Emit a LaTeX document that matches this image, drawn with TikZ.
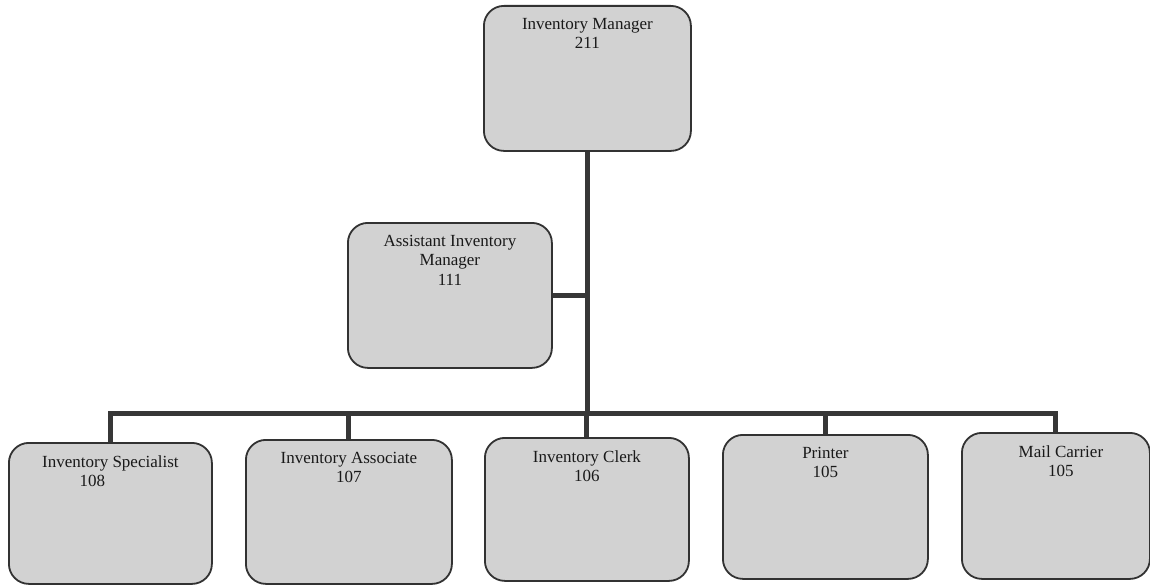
\documentclass[tikz,border=0pt]{standalone}
\usepackage{fontspec}
\setmainfont{Liberation Serif}
\definecolor{boxfill}{RGB}{210,210,210}
\definecolor{boxline}{RGB}{50,50,50}
\definecolor{wire}{RGB}{55,55,55}
\begin{document}
\begin{tikzpicture}[x=1pt,y=-1pt,
  post/.style={draw=boxline, line width=1.8pt, fill=boxfill,
    rounded corners=20pt, inner sep=0pt, anchor=north west},
  title/.style={anchor=north, align=center, inner sep=0pt,
    font=\fontsize{17}{19.5}\selectfont, text=black!90},
  link/.style={draw=wire, line width=5pt}]
  \useasboundingbox[fill=white] (0,0) rectangle (1150,586);

  % boxes
  \node[post, minimum width=207pt, minimum height=145pt] (mgr)   at (483,5)   {};
  \node[post, minimum width=204pt, minimum height=145pt] (asst)  at (347,222) {};
  \node[post, minimum width=203pt, minimum height=141pt] (spec)  at (8,442)   {};
  \node[post, minimum width=206pt, minimum height=144pt] (assoc) at (245,439) {};
  \node[post, minimum width=204pt, minimum height=143pt] (clerk) at (484,437) {};
  \node[post, minimum width=205pt, minimum height=144pt] (print) at (722,434) {};
  \node[post, minimum width=188pt, minimum height=146pt] (mail)  at (961,432) {};

  % titles
  \node[title] (mgr-t)   at ([yshift=-13pt]mgr.north)   {Inventory Manager\\211};
  \node[title] (asst-t)  at ([yshift=-13pt]asst.north)  {Assistant Inventory\\Manager\\111};
  \node[title] (spec-t)  at ([yshift=-13pt]spec.north)  {Inventory Specialist\\108\hspace*{36pt}};
  \node[title] (assoc-t) at ([yshift=-13pt]assoc.north) {Inventory Associate\\107};
  \node[title] (clerk-t) at ([yshift=-13pt]clerk.north) {Inventory Clerk\\106};
  \node[title] (print-t) at ([yshift=-13pt]print.north) {Printer\\105};
  \node[title] (mail-t)  at ([xshift=5pt,yshift=-13pt]mail.north) {Mail Carrier\\105};

  % connectors: trunk, side branch, bus and drops
  \coordinate (hub) at (mgr.south |- 0,413);
  \draw[link] (mgr.south) -- (hub);
  \draw[link] (asst.east) -- (asst.east -| hub);
  \draw[link, line cap=rect] (spec.north |- hub) -- (mail.north |- hub);
  \foreach \n in {spec,assoc,clerk,print,mail}
    \draw[link] (\n.north |- hub) -- (\n.north);
\end{tikzpicture}
\end{document}
